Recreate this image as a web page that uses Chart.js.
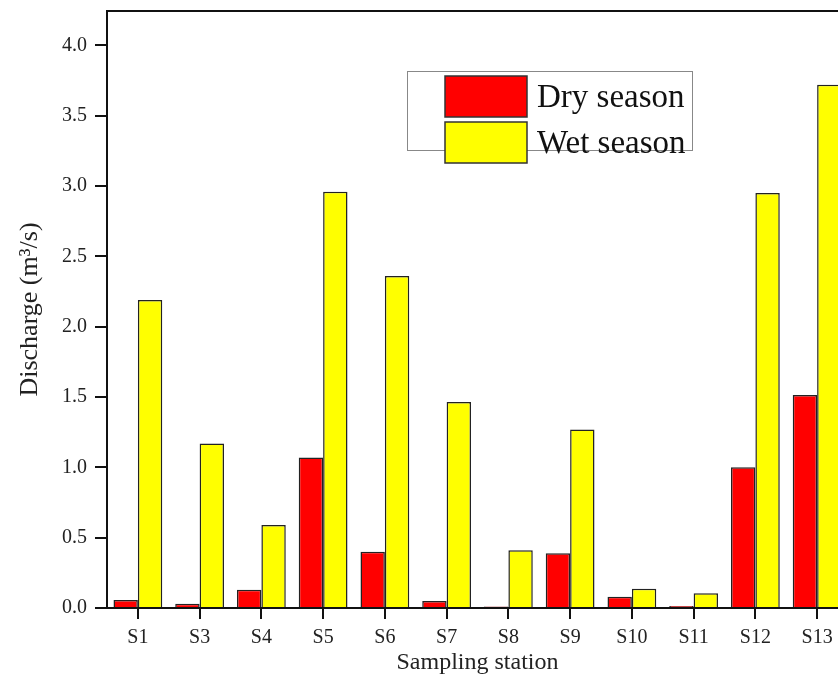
<!DOCTYPE html>
<html>
<head>
<meta charset="utf-8">
<script src="https://cdn.jsdelivr.net/npm/chart.js@4/dist/chart.umd.min.js"></script>
<style>
html,body{margin:0;padding:0;background:#fff;overflow:hidden;width:838px;height:677px;}
canvas{display:block;}
</style>
</head>
<body>
<canvas id="c" width="870" height="677"></canvas>
<script>
const categories = ["S1","S3","S4","S5","S6","S7","S8","S9","S10","S11","S12","S13"];
const drySeason = [0.057,0.03,0.13,1.07,0.40,0.05,0.01,0.39,0.08,0.014,1.0,1.515];
const wetSeason = [2.19,1.17,0.59,2.96,2.36,1.465,0.41,1.27,0.137,0.105,2.95,3.72];
const seriesNames = ["Dry season","Wet season"];
const yTicks = [0,0.5,1.0,1.5,2.0,2.5,3.0,3.5,4.0];

const FONT = "'Liberation Serif', 'DejaVu Serif', serif";

const frameAndLegend = {
  id: 'frameAndLegend',
  afterDraw(chart) {
    const ctx = chart.ctx;
    const a = chart.chartArea;
    ctx.save();
    ctx.strokeStyle = '#111';
    ctx.lineWidth = 2;
    ctx.beginPath();
    ctx.moveTo(a.left, a.top);
    ctx.lineTo(a.right, a.top);
    ctx.lineTo(a.right, a.bottom);
    ctx.stroke();
    // legend box
    const bx = a.left + 300, by = a.top + 60, bw = 285, bh = 79;
    ctx.fillStyle = '#fff';
    ctx.fillRect(bx, by, bw, bh);
    ctx.strokeStyle = '#888';
    ctx.lineWidth = 1;
    ctx.strokeRect(bx + 0.5, by + 0.5, bw, bh);
    chart.data.datasets.forEach((ds, i) => {
      const sx = bx + 38, sy = by + 5 + i * 46, sw = 82, sh = 41;
      ctx.fillStyle = ds.backgroundColor;
      ctx.fillRect(sx, sy, sw, sh);
      ctx.strokeStyle = '#333';
      ctx.lineWidth = 1.5;
      ctx.strokeRect(sx, sy, sw, sh);
      ctx.fillStyle = '#111';
      ctx.font = "33px " + FONT;
      ctx.textBaseline = 'middle';
      ctx.textAlign = 'left';
      ctx.fillText(ds.label, sx + sw + 10, sy + sh / 2 + 2);
    });
    ctx.restore();
  }
};

new Chart(document.getElementById('c'), {
  type: 'bar',
  data: {
    labels: categories,
    datasets: [
      { label: seriesNames[0], data: drySeason, backgroundColor: '#ff0000', borderColor: '#222', borderWidth: 1.5 },
      { label: seriesNames[1], data: wetSeason, backgroundColor: '#ffff00', borderColor: '#222', borderWidth: 1.5 }
    ]
  },
  options: {
    responsive: false,
    animation: false,
    devicePixelRatio: 1,
    layout: { padding: { top: 11, right: 22, left: 0, bottom: 0 } },
    plugins: { legend: { display: false }, tooltip: { enabled: false } },
    datasets: { bar: { barPercentage: 1.0, categoryPercentage: 0.79 } },
    scales: {
      x: {
        grid: { display: true, drawOnChartArea: false, offset: false, color: '#111', lineWidth: 2, tickLength: 11 },
        border: { display: true, color: '#111', width: 2 },
        ticks: { color: '#222', font: { family: FONT, size: 20 }, padding: 7, maxRotation: 0 },
        title: { display: true, text: 'Sampling station', color: '#222', font: { family: FONT, size: 24 }, padding: { top: 2, bottom: 0 } },
        afterFit(s) { s.height = 69; s.paddingLeft = 0; s.paddingRight = 0; }
      },
      y: {
        min: 0,
        max: 4.245,
        grid: { display: true, drawOnChartArea: false, color: '#111', lineWidth: 2, tickLength: 12 },
        border: { display: true, color: '#111', width: 2 },
        afterBuildTicks(s) { s.ticks = yTicks.map(v => ({ value: v })); },
        ticks: { color: '#222', font: { family: FONT, size: 20 }, padding: 8, includeBounds: false,
          callback: v => Number(v).toFixed(1) },
        title: { display: true, text: 'Discharge (m³/s)', color: '#222', font: { family: FONT, size: 26 }, padding: { top: 15, bottom: 0 } },
        afterFit(s) { s.width = 107; s.paddingTop = 0; s.paddingBottom = 0; }
      }
    }
  },
  plugins: [frameAndLegend]
});
</script>
</body>
</html>
